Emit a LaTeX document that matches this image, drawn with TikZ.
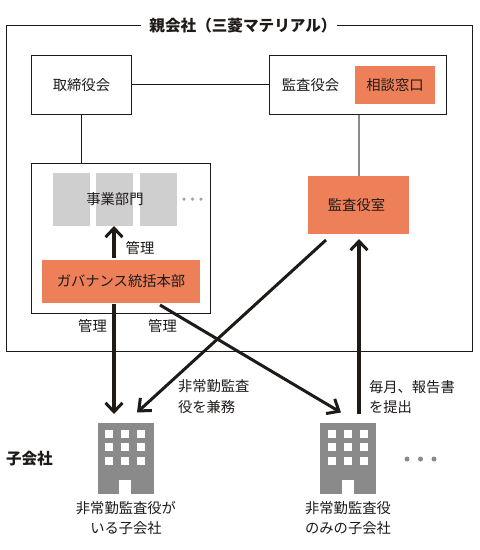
\documentclass[tikz,border=0pt]{standalone}
\usepackage{fontspec}
\setmainfont{Noto Sans CJK JP}
\usetikzlibrary{arrows.meta}
\definecolor{accent}{HTML}{ED8059}
\definecolor{panel}{HTML}{CFCFCF}
\definecolor{bldg}{HTML}{8A8A8A}
\definecolor{ink}{HTML}{1E1A18}
\tikzset{
  base/.style={inner sep=0pt,outer sep=0pt,text=ink,font=\fontsize{14.3}{20}\selectfont,align=center},
  framebox/.style={base,draw=ink,line width=1pt,fill=white,minimum width=#1},
  hotbox/.style={base,fill=accent,minimum width=#1},
  panelbox/.style={base,fill=panel,minimum width=37pt,minimum height=53pt},
  tower/.style={base,fill=bldg,minimum width=56pt,minimum height=71pt},
  win/.style={fill=white,minimum width=8pt,minimum height=8pt,inner sep=0pt,outer sep=0pt},
  door/.style={fill=white,minimum width=12pt,minimum height=14pt,inner sep=0pt,outer sep=0pt},
  label/.style={base},
  heading/.style={base,font=\fontsize{15.6}{20}\selectfont\bfseries},
  thin link/.style={draw=ink,line width=1pt},
  heavy/.style={draw=ink,line width=4pt,-{Straight Barb[length=9pt,width=17pt,line width=3pt]}},
  medium/.style={draw=ink,line width=3pt,-{Straight Barb[length=10pt,width=17pt,line width=3pt]}},
  ddot/.style={circle,fill=#1,inner sep=0pt,outer sep=0pt,minimum size=5pt},
}
\begin{document}
\begin{tikzpicture}[x=1pt,y=-1pt]
\useasboundingbox (0,0) rectangle (480,550);
\fill[white] (0,0) rectangle (480,550);
% parent frame
\node[framebox=466pt,minimum height=326pt] (parent) at (239.5,188.5) {};
\node[heading,fill=white,minimum width=196pt,minimum height=18pt] (title) at (239,26) {\hspace*{8pt}親会社（三菱マテリアル）};
% boxes
\node[framebox=100pt,minimum height=59pt] (board) at (81.5,85) {取締役会};
\node[framebox=177pt,minimum height=59pt] (audit) at (358,85) {};
\node[label] (auditlbl) at (310.5,85) {監査役会};
\node[hotbox=80pt,minimum height=38pt] (desk) at (395,85) {相談窓口};
\node[framebox=179pt,minimum height=150pt] (hold) at (121,238.5) {};
\node[panelbox] (p1) at (71.5,199.5) {};
\node[panelbox] (p2) at (114.5,199.5) {};
\node[panelbox] (p3) at (158.5,199.5) {};
\node[label] (biz) at (115,199) {事業部門};
\node[ddot=bldg!80,minimum size=3.5pt] (d1) at (184,199) {};
\node[ddot=bldg!80,minimum size=3.5pt] (d2) at (192.5,199) {};
\node[ddot=bldg!80,minimum size=3.5pt] (d3) at (201,199) {};
\node[hotbox=158pt,minimum height=43pt] (gov) at (121,281.5) {ガバナンス統括本部};
\node[hotbox=101pt,minimum height=58pt] (office) at (358.5,205) {};
\node[label] (officelbl) at (356.5,205) {監査役室};
% buildings
\node[tower] (t1) at (125.5,458.5) {};
\foreach \cx in {109,125,141} \foreach \cy in {434,447,461} \node[win] at (\cx,\cy) {};
\node[door] at (125,487) {};
\node[tower] (t2) at (348,458.5) {};
\foreach \cx in {332,348,364} \foreach \cy in {434,447,461} \node[win] at (\cx,\cy) {};
\node[door] at (348,487) {};
\node[ddot=bldg] (e1) at (407,459) {};
\node[ddot=bldg] (e2) at (420.5,459) {};
\node[ddot=bldg] (e3) at (434,459) {};
% free ends
\coordinate (a1s) at (114,258);
\coordinate (a1e) at (114,226);
\coordinate (a2s) at (114,304);
\coordinate (a2e) at (114,414);
\coordinate (a3s) at (160,305);
\coordinate (a3e) at (341,412.5);
\coordinate (a4s) at (326,240);
\coordinate (a4e) at (137,412.5);
\coordinate (a5s) at (359,414);
\coordinate (a5e) at (359,239);
% connectors
\draw[thin link] ([yshift=.5pt]board.east) -- ([yshift=.5pt]audit.west);
\draw[thin link] (board.south) -- (hold.north -| board.south);
\draw[draw=bldg,line width=2pt] ([xshift=.5pt]audit.south -| office.north) -- ([xshift=.5pt]office.north);
\draw[heavy] (a1s) -- (a1e);
\draw[heavy] (a2s) -- (a2e);
\draw[medium] (a3s) -- (a3e);
\draw[medium] (a4s) -- (a4e);
\draw[heavy] (a5s) -- (a5e);
% labels
\node[label] (l1) at (140,248) {管理};
\node[label] (l2) at (92.5,326) {管理};
\node[label] (l3) at (162.5,326) {管理};
\node[label,anchor=west] (l4) at (178,386) {非常勤監査};
\node[label,anchor=west] (l4b) at (178,407) {役を兼務};
\node[label,anchor=west] (l5) at (369,387) {毎月、報告書};
\node[label,anchor=west] (l5b) at (369,407) {を提出};
\node[heading,anchor=west] (sub) at (6,459) {子会社};
\node[label] (c1) at (126,508) {非常勤監査役が};
\node[label] (c1b) at (126,528) {いる子会社};
\node[label] (c2) at (348,508) {非常勤監査役};
\node[label] (c2b) at (348,528) {のみの子会社};
\end{tikzpicture}
\end{document}
